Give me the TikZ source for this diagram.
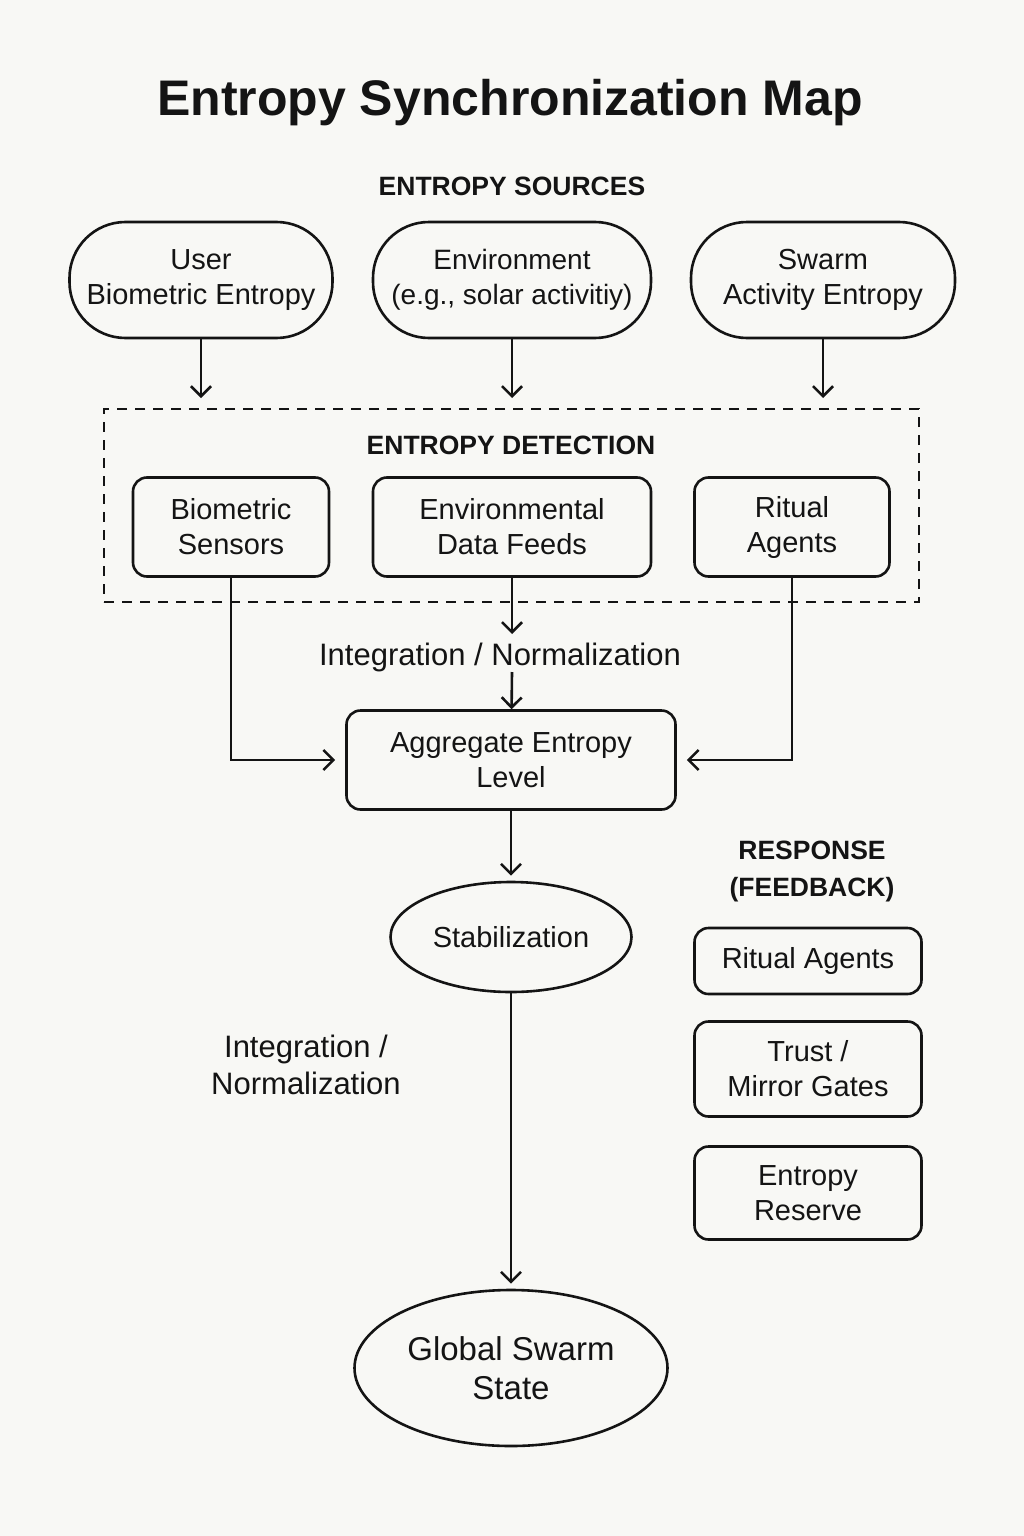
\documentclass[tikz,border=0pt]{standalone}
\usepackage{fontspec}
\setmainfont{Liberation Sans}
\usetikzlibrary{arrows.meta,shapes.geometric}

\definecolor{paper}{RGB}{248,248,245}
\definecolor{ink}{RGB}{20,20,20}

\begin{document}
\begin{tikzpicture}[x=1pt, y=-1pt, line width=2.6pt, draw=ink, text=ink,
  font=\fontsize{29}{35}\selectfont,
  pill/.style={draw, rounded corners=56pt, minimum width=#1, minimum height=116pt, align=center},
  box/.style={draw, rounded corners=14pt, minimum height=99pt, align=center},
  ell/.style={draw, ellipse, inner sep=0pt, align=center},
  head/.style={font=\bfseries\fontsize{26.5}{37}\selectfont, align=center},
  mid/.style={font=\fontsize{31}{37}\selectfont, align=center},
  group/.style={draw, dash pattern=on 10pt off 8pt, line width=2.2pt},
  arr/.style={-{Straight Barb[length=10pt,width=20pt]}}]

\fill[paper] (0,0) rectangle (1024,1536);
\useasboundingbox (0,0) rectangle (1024,1536);

\node[font=\bfseries\fontsize{50}{60}\selectfont] (title) at (510,103) {Entropy Synchronization Map};

% sources
\node[head] (hsrc) at (512,186) {ENTROPY SOURCES};
\node[pill=263pt] (src1) at (201,280) {User\\Biometric Entropy};
\node[pill=278pt, font=\fontsize{28}{35}\selectfont] (src2) at (512,280) {Environment\\(e.g., solar activitiy)};
\node[pill=264pt] (src3) at (823,280) {Swarm\\Activity Entropy};

\coordinate (e1) at (201,398);
\coordinate (e2) at (512,398);
\coordinate (e3) at (823,398);

% detection
\node[group, minimum width=815pt, minimum height=193pt] (det) at (511.5,505.5) {};
\node[head] (hdet) at (511,445) {ENTROPY DETECTION};
\node[box, minimum width=196pt] (d1) at (231,527) {Biometric\\Sensors};
\node[box, minimum width=278pt] (d2) at (512,527) {Environmental\\Data Feeds};
\node[box, minimum width=195pt] (d3) at (792,527) {Ritual\\Agents};

\node[mid] (lbl1) at (500,657) {Integration / Normalization};
\coordinate (n1) at (512,634);
\coordinate (n2) at (512,672);

\node[box, minimum width=329pt] (agg) at (511,760) {Aggregate Entropy\\Level};
\node[ell, minimum width=241pt, minimum height=110pt] (stab) at (511,937) {Stabilization};
\node[ell, minimum width=313pt, minimum height=156pt, font=\fontsize{33}{39}\selectfont] (glob) at (511,1368) {Global Swarm\\State};

\node[mid] (lbl2) at (306,1065) {Integration /\\Normalization};

% response
\node[head] (hresp) at (812,871) {RESPONSE\\(FEEDBACK)};
\node[box, minimum width=227pt, minimum height=66pt] (r1) at (808,961) {Ritual Agents};
\node[box, minimum width=227pt, minimum height=95pt] (r2) at (808,1069) {Trust /\\Mirror Gates};
\node[box, minimum width=227pt, minimum height=93pt] (r3) at (808,1193) {Entropy\\Reserve};

\begin{scope}[arr]
\draw (src1) -- (e1);
\draw (src2) -- (e2);
\draw (src3) -- (e3);
\draw (d2) -- (n1);
\draw (n2) -- (agg);
\draw[shorten >=10pt] (d1.south) |- (agg.west);
\draw[shorten >=10pt] (d3.south) |- (agg.east);
\draw[shorten >=5pt] (agg) -- (stab);
\draw[shorten >=5pt] (stab) -- (glob);
\end{scope}
\end{tikzpicture}
\end{document}
